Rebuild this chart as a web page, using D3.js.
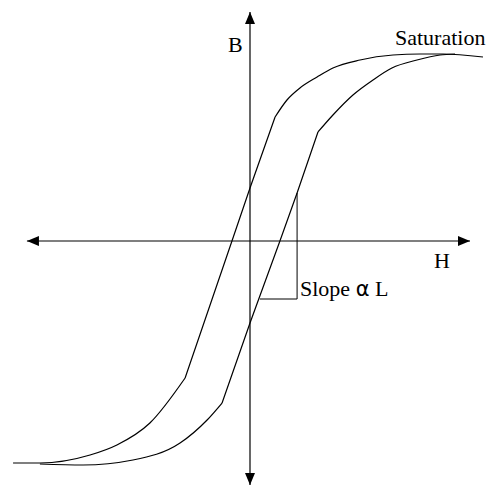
<!DOCTYPE html>
<html>
<head>
<meta charset="utf-8">
<script src="https://cdn.jsdelivr.net/npm/d3@7"></script>
<style>
  html, body { margin: 0; padding: 0; background: #fff; }
  svg { display: block; }
  .lbl { font-family: "Liberation Serif", "Times New Roman", serif; font-size: 22px; fill: #000; }
  .alpha { font-family: "DejaVu Sans", "Liberation Sans", sans-serif; font-size: 21px; }
</style>
</head>
<body>
<div id="chart"></div>
<script>
// Hysteresis loop, values (H, B in normalised units)
// each branch: curved tail, straight middle, curved head
const upperTail = [
    [-1.077, -1.11], [-0.955, -1.11], [-0.727, -1.07], [-0.605, -1.02],
    [-0.455, -0.91], [-0.295, -0.685]
];
const upperMid = [[-0.295, -0.685], [-0.082, 0], [0, 0.265], [0.114, 0.62]];
const upperHead = [
    [0.114, 0.62], [0.168, 0.705], [0.227, 0.765], [0.305, 0.82],
    [0.377, 0.865], [0.5, 0.905], [0.65, 0.93], [0.773, 0.935],
    [0.877, 0.935], [1.059, 0.92]
];
const lowerTail = [
    [-0.955, -1.115], [-0.759, -1.12], [-0.532, -1.095], [-0.318, -1.01],
    [-0.195, -0.895], [-0.127, -0.81]
];
const lowerMid = [[-0.127, -0.81], [0, -0.41], [0.136, 0], [0.214, 0.24], [0.309, 0.545]];
const lowerHead = [
    [0.309, 0.545], [0.377, 0.63], [0.468, 0.73], [0.559, 0.805],
    [0.645, 0.865], [0.759, 0.905], [0.864, 0.93], [0.932, 0.935]
];
// slope indicator: vertical drop then horizontal run back to the curve
const slopeMarker = [[0.214, 0.24], [0.214, -0.29], [0.045, -0.29]];
const hAxisExtent = [-1.014, 1.0];
const bAxisExtent = [1.145, -1.22];

const width = 493, height = 486;

const svg = d3.select('#chart')
    .append('svg')
    .attr('width', width)
    .attr('height', height);

const xScale = d3.scaleLinear().domain([-1, 1]).range([30, 470]);
const yScale = d3.scaleLinear().domain([-1, 1]).range([441, 41]);

// Arrow head marker
svg.append('defs').append('marker')
    .attr('id', 'arrow')
    .attr('viewBox', '0 0 12 10')
    .attr('refX', 12)
    .attr('refY', 5)
    .attr('markerWidth', 12)
    .attr('markerHeight', 10)
    .attr('markerUnits', 'userSpaceOnUse')
    .attr('orient', 'auto-start-reverse')
    .append('path')
    .attr('d', 'M0,0 L12,5 L0,10 Z')
    .attr('fill', '#000');

// Axes
svg.append('line')
    .attr('x1', xScale(hAxisExtent[0])).attr('x2', xScale(hAxisExtent[1]))
    .attr('y1', yScale(0)).attr('y2', yScale(0))
    .attr('stroke', '#000').attr('stroke-width', 1.2)
    .attr('marker-start', 'url(#arrow)')
    .attr('marker-end', 'url(#arrow)');

svg.append('line')
    .attr('x1', xScale(0)).attr('x2', xScale(0))
    .attr('y1', yScale(bAxisExtent[0])).attr('y2', yScale(bAxisExtent[1]))
    .attr('stroke', '#000').attr('stroke-width', 1.2)
    .attr('marker-start', 'url(#arrow)')
    .attr('marker-end', 'url(#arrow)');

// Loop branches
const smooth = d3.line()
    .x(d => xScale(d[0]))
    .y(d => yScale(d[1]))
    .curve(d3.curveMonotoneX);

const straight = d3.line()
    .x(d => xScale(d[0]))
    .y(d => yScale(d[1]));

const segments = [
    [upperTail, smooth], [upperMid, straight], [upperHead, smooth],
    [lowerTail, smooth], [lowerMid, straight], [lowerHead, smooth]
];

segments.forEach(([pts, gen]) => {
    svg.append('path')
        .datum(pts)
        .attr('d', gen)
        .attr('fill', 'none')
        .attr('stroke', '#000')
        .attr('stroke-width', 1.2)
        .attr('stroke-linejoin', 'round');
});

svg.append('path')
    .datum(slopeMarker)
    .attr('d', straight)
    .attr('fill', 'none')
    .attr('stroke', '#000')
    .attr('stroke-width', 1);

// Labels
svg.append('text').attr('class', 'lbl')
    .attr('x', 228).attr('y', 52).text('B');

svg.append('text').attr('class', 'lbl')
    .attr('x', 395).attr('y', 45).text('Saturation');

svg.append('text').attr('class', 'lbl')
    .attr('x', 434).attr('y', 268).text('H');

const slope = svg.append('text').attr('class', 'lbl')
    .attr('x', 300).attr('y', 296);
slope.append('tspan').text('Slope ');
slope.append('tspan').attr('class', 'alpha').text('α');
slope.append('tspan').text(' L');
</script>
</body>
</html>
